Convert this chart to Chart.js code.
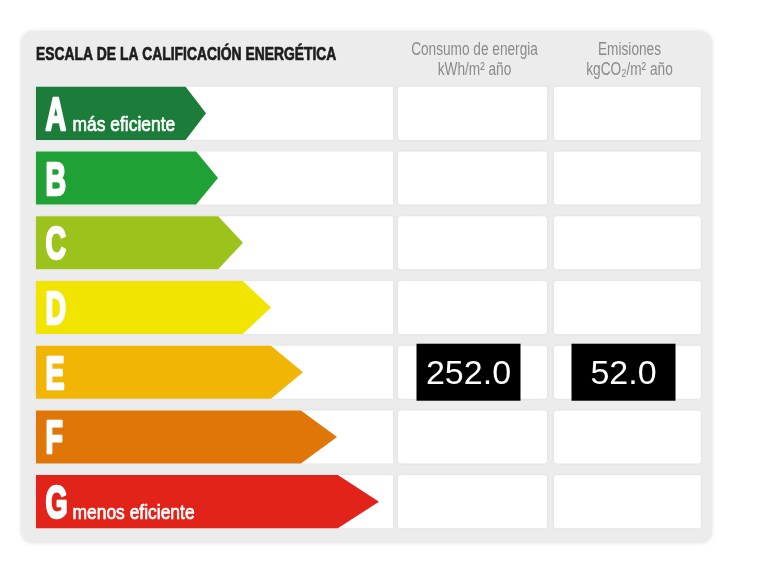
<!DOCTYPE html>
<html>
<head>
<meta charset="utf-8">
<script src="https://cdn.jsdelivr.net/npm/chart.js@4/dist/chart.umd.min.js"></script>
<style>
  body { margin: 0; background: #fff; }
  canvas { display: block; }
</style>
</head>
<body>
<canvas id="ratingChart" width="767" height="570"></canvas>
<script>
const chartTitle = 'ESCALA DE LA CALIFICACIÓN ENERGÉTICA';
const ratings = ['A', 'B', 'C', 'D', 'E', 'F', 'G'];
const ratingNotes = ['más eficiente', '', '', '', '', '', 'menos eficiente'];
const arrowLengths = [170, 182, 207, 235, 267, 301, 343];
const ratingColors = ['#1b7d39', '#20a136', '#9cc31c', '#f1e500', '#f1b505', '#e07508', '#e2231a'];
const consumptionTitle = ['Consumo de energia', 'kWh/m² año'];
const emissionsTitle = ['Emisiones', 'kgCO₂/m² año'];
const consumption = [null, null, null, null, 252.0, null, null];
const emissions = [null, null, null, null, 52.0, null, null];

// table columns to the right of the arrows
const columns = [
  {left: 398, right: 547, title: consumptionTitle, values: consumption},
  {left: 554, right: 701, title: emissionsTitle, values: emissions}
];

function roundRect(ctx, x, y, w, h, r) {
  ctx.beginPath();
  ctx.moveTo(x + r, y);
  ctx.arcTo(x + w, y, x + w, y + h, r);
  ctx.arcTo(x + w, y + h, x, y + h, r);
  ctx.arcTo(x, y + h, x, y, r);
  ctx.arcTo(x, y, x + w, y, r);
  ctx.closePath();
}

// condensed text: squeeze horizontally, optional stroke to make it heavier
function narrowText(ctx, text, x, y, sx, align, weight) {
  ctx.save();
  ctx.translate(x, y);
  ctx.scale(sx, 1);
  ctx.textAlign = align || 'left';
  ctx.fillText(text, 0, 0);
  if (weight) {
    ctx.lineJoin = 'round';
    ctx.lineWidth = weight;
    ctx.strokeStyle = ctx.fillStyle;
    ctx.strokeText(text, 0, 0);
  }
  ctx.restore();
}

const panelPlugin = {
  id: 'panel',
  beforeDraw(chart) {
    const ctx = chart.ctx;
    const area = chart.chartArea;
    const yScale = chart.scales.y;
    const bars = chart.getDatasetMeta(0).data;
    ctx.save();
    ctx.fillStyle = '#fff';
    ctx.fillRect(0, 0, chart.width, chart.height);

    ctx.shadowColor = 'rgba(0,0,0,0.12)';
    ctx.shadowBlur = 4;
    ctx.fillStyle = '#ececec';
    roundRect(ctx, 21, 31, 691, 512, 12);
    ctx.fill();

    ctx.shadowColor = 'rgba(0,0,0,0.08)';
    ctx.shadowBlur = 3;
    ctx.fillStyle = '#fff';
    ratings.forEach((r, i) => {
      const cy = yScale.getPixelForValue(i);
      const h = bars[i].height;
      ctx.fillRect(area.left, cy - h / 2, area.right - area.left, h);
      columns.forEach(col => {
        roundRect(ctx, col.left, cy - h / 2, col.right - col.left, h, 3);
        ctx.fill();
      });
    });
    ctx.restore();

    ctx.save();
    ctx.textBaseline = 'alphabetic';
    ctx.fillStyle = '#1e1e1e';
    ctx.font = 'bold 18px "Liberation Sans", Arial, sans-serif';
    narrowText(ctx, chartTitle, 36, 59.5, 0.77, 'left', 0.7);

    ctx.fillStyle = '#8a8a8a';
    ctx.font = '17.5px "Liberation Sans", Arial, sans-serif';
    columns.forEach(col => {
      const cx = (col.left + col.right) / 2 + 2;
      narrowText(ctx, col.title[0], cx, 54.5, 0.78, 'center');
      narrowText(ctx, col.title[1], cx, 74.5, 0.78, 'center');
    });
    ctx.restore();
  },
  beforeDatasetDraw(chart, args) {
    const ctx = chart.ctx;
    const meta = chart.getDatasetMeta(args.index);
    const colors = chart.data.datasets[args.index].backgroundColor;
    ctx.save();
    meta.data.forEach((bar, i) => {
      const top = bar.y - bar.height / 2;
      const bottom = bar.y + bar.height / 2;
      const depth = (bar.x - bar.base) * 0.12;
      ctx.fillStyle = colors[i];
      ctx.beginPath();
      ctx.moveTo(bar.base, top);
      ctx.lineTo(bar.x - depth, top);
      ctx.lineTo(bar.x, bar.y);
      ctx.lineTo(bar.x - depth, bottom);
      ctx.lineTo(bar.base, bottom);
      ctx.closePath();
      ctx.fill();

      ctx.fillStyle = '#fff';
      ctx.font = 'bold 46px "Liberation Sans", Arial, sans-serif';
      narrowText(ctx, ratings[i], bar.base + 9.5, bar.y + 16.5, 0.62, 'left', 2.6);
      if (ratingNotes[i]) {
        ctx.font = '21px "Liberation Sans", Arial, sans-serif';
        narrowText(ctx, ratingNotes[i], bar.base + 36.5, bar.y + 17.5, 0.83, 'left', 0.7);
      }
    });
    ctx.restore();
    return false;
  },
  afterDatasetsDraw(chart) {
    const ctx = chart.ctx;
    const yScale = chart.scales.y;
    ctx.save();
    columns.forEach(col => {
      col.values.forEach((v, i) => {
        if (v === null) return;
        const cy = yScale.getPixelForValue(i);
        const cx = (col.left + col.right) / 2 - 4;
        ctx.fillStyle = '#000';
        ctx.fillRect(cx - 52, cy - 28.5, 104, 57);
        ctx.fillStyle = '#fff';
        ctx.font = '34px "Liberation Sans", Arial, sans-serif';
        ctx.textAlign = 'center';
        ctx.fillText(v.toFixed(1), cx, cy + 11.5);
      });
    });
    ctx.restore();
  }
};

new Chart(document.getElementById('ratingChart'), {
  type: 'bar',
  data: {
    labels: ratings,
    datasets: [{
      data: arrowLengths,
      backgroundColor: ratingColors,
      barPercentage: 0.82,
      categoryPercentage: 1
    }]
  },
  options: {
    indexAxis: 'y',
    responsive: false,
    animation: false,
    layout: {padding: {left: 36, right: 374, top: 81, bottom: 36}},
    scales: {
      x: {display: false, min: 0, max: 357},
      y: {display: false}
    },
    plugins: {
      legend: {display: false},
      tooltip: {enabled: false}
    }
  },
  plugins: [panelPlugin]
});
</script>
</body>
</html>
